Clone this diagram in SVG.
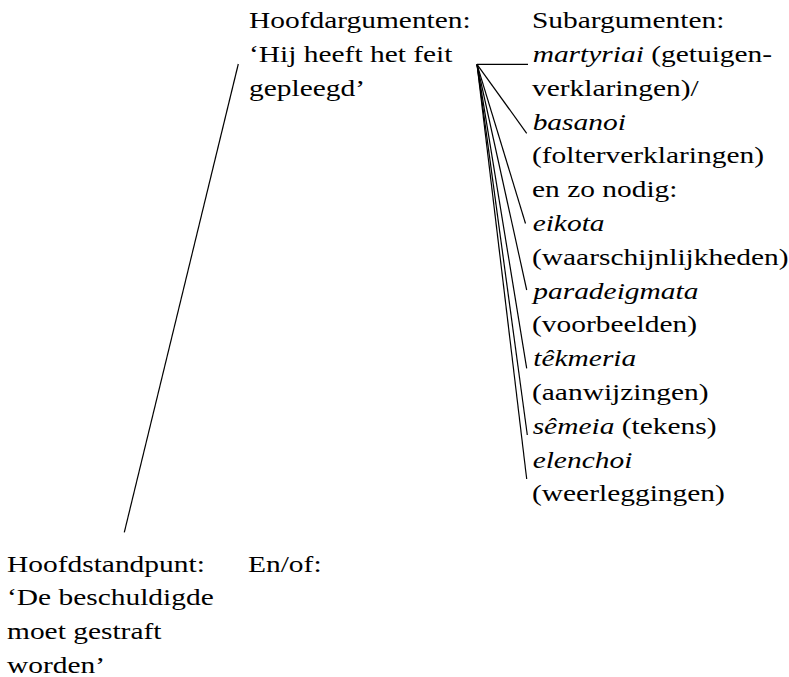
<svg xmlns="http://www.w3.org/2000/svg" width="789" height="677" viewBox="0 0 789 677">
<style>
text{font-family:"Liberation Serif","Times New Roman",serif;font-size:23px;fill:#000}
.i{font-style:italic}
.c line{stroke:#000;stroke-width:1.2;fill:none}
</style>
<rect width="789" height="677" fill="#fff"/>
<g id="connectors" class="c">
<line x1="238.3" y1="64" x2="124.3" y2="532.3"/>
<line x1="477" y1="64.3" x2="528" y2="64.3"/>
<line x1="477" y1="64.3" x2="526.7" y2="133.3"/>
<line x1="477" y1="64.3" x2="525.5" y2="223.5"/>
<line x1="477" y1="64.3" x2="526.7" y2="290"/>
<line x1="477" y1="64.3" x2="526.7" y2="368.3"/>
<line x1="477" y1="64.3" x2="527.3" y2="435"/>
<line x1="477" y1="64.3" x2="526.7" y2="479"/>
</g>
<g id="hoofdargumenten" transform="translate(249,0) scale(1.28,1)">
<text x="0" y="28.3">Hoofdargumenten:</text>
<text x="0" y="62.1">‘Hij heeft het feit</text>
<text x="0" y="95.9">gepleegd’</text>
</g>
<g id="subargumenten" transform="translate(532,0) scale(1.28,1)">
<text x="0" y="28.3">Subargumenten:</text>
<text x="0.5" y="62.1"><tspan class="i">martyriai</tspan> (getuigen-</text>
<text x="0" y="95.9">verklaringen)/</text>
<text x="0.5" y="129.7" class="i">basanoi</text>
<text x="0" y="163.5">(folterverklaringen)</text>
<text x="0" y="197.3">en zo nodig:</text>
<text x="0.5" y="231.1" class="i">eikota</text>
<text x="0" y="264.9">(waarschijnlijkheden)</text>
<text x="1" y="298.7" class="i">paradeigmata</text>
<text x="0" y="332.5">(voorbeelden)</text>
<text x="1" y="366.3" class="i">têkmeria</text>
<text x="0" y="400.1">(aanwijzingen)</text>
<text x="0.5" y="433.9"><tspan class="i">sêmeia</tspan> (tekens)</text>
<text x="0.5" y="467.7" class="i">elenchoi</text>
<text x="0" y="501.5">(weerleggingen)</text>
</g>
<g id="hoofdstandpunt" transform="translate(7,0) scale(1.28,1)">
<text x="0" y="571.7">Hoofdstandpunt:</text>
<text x="0" y="605.5">‘De beschuldigde</text>
<text x="0" y="639.3">moet gestraft</text>
<text x="0" y="673.1">worden’</text>
</g>
<g id="en-of" transform="translate(248,0) scale(1.28,1)">
<text x="0" y="571.7">En/of:</text>
</g>
</svg>
